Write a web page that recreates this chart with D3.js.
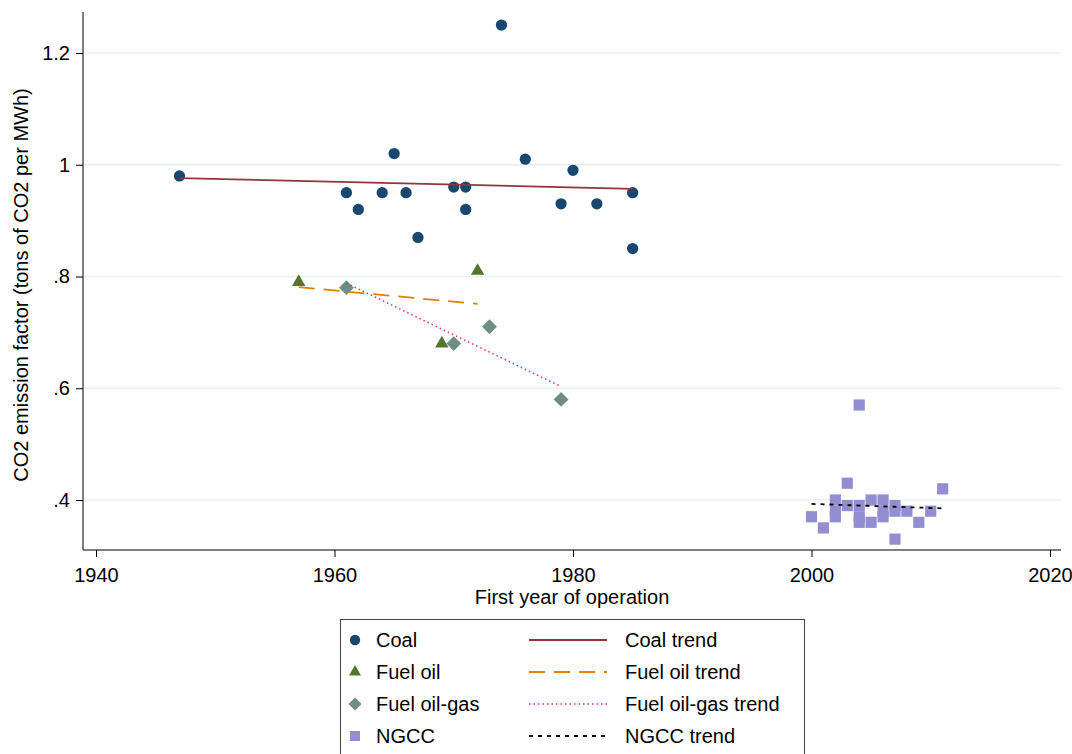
<!DOCTYPE html>
<html><head><meta charset="utf-8">
<script src="https://cdn.jsdelivr.net/npm/d3@7"></script>
<style>body{margin:0;background:#fff;} svg{display:block;font-family:"Liberation Sans",Arial,sans-serif;}</style>
</head><body>
<svg id="c" width="1072" height="754"></svg>
<script>
const coalYears = [1947,1961,1962,1964,1965,1966,1967,1970,1971,1971,1974,1976,1979,1980,1982,1985,1985];
const coalValues = [0.98,0.95,0.92,0.95,1.02,0.95,0.87,0.96,0.96,0.92,1.25,1.01,0.93,0.99,0.93,0.95,0.85];
const oilYears = [1957,1969,1972];
const oilValues = [0.79,0.68,0.81];
const oilGasYears = [1961,1970,1973,1979];
const oilGasValues = [0.78,0.68,0.71,0.58];
const ngccYears = [2000,2001,2002,2002,2002,2003,2003,2004,2004,2004,2004,2005,2005,2006,2006,2006,2007,2007,2007,2008,2009,2010,2011];
const ngccValues = [0.37,0.35,0.40,0.38,0.37,0.43,0.39,0.57,0.39,0.37,0.36,0.40,0.36,0.40,0.38,0.37,0.39,0.38,0.33,0.38,0.36,0.38,0.42];
const coalTrendYears = [1947,1985], coalTrendValues = [0.976,0.957];
const oilTrendYears = [1957,1972], oilTrendValues = [0.781,0.751];
const oilGasTrendYears = [1961,1979], oilGasTrendValues = [0.788,0.603];
const ngccTrendYears = [2000,2011], ngccTrendValues = [0.393,0.385];
const xTicks = [1940,1960,1980,2000,2020];
const yTicks = [0.4,0.6,0.8,1.0,1.2];
const yTickLabels = [".4",".6",".8","1","1.2"];

const FS = 20;
const svg = d3.select("#c");
const x = d3.scaleLinear().domain([1940,2020]).range([96,1050]);
const y = d3.scaleLinear().domain([0.4,1.2]).range([500,53]);
const L=83, R=1061, T=12, B=550;

// grid
svg.append("g").selectAll("line").data(yTicks).join("line")
  .attr("x1",L).attr("x2",R).attr("y1",d=>y(d)).attr("y2",d=>y(d))
  .attr("stroke","#eaf0f2").attr("stroke-width",1.5);

// axes
const yAxis = d3.axisLeft(y).tickValues(yTicks).tickFormat((d,i)=>yTickLabels[i]).tickSize(7).tickPadding(6);
const gy = svg.append("g").attr("transform",`translate(${L},0)`).call(yAxis);
gy.select(".domain").remove();
gy.append("line").attr("x1",0).attr("x2",0).attr("y1",T).attr("y2",B).attr("stroke","#000");
const xAxis = d3.axisBottom(x).tickValues(xTicks).tickFormat(d3.format("d")).tickSize(7).tickPadding(11);
const gx = svg.append("g").attr("transform",`translate(0,${B})`).call(xAxis);
gx.select(".domain").remove();
gx.append("line").attr("x1",L).attr("x2",R).attr("y1",0).attr("y2",0).attr("stroke","#000");
svg.selectAll(".tick text").attr("font-size",FS).attr("font-family","Liberation Sans, Arial, sans-serif").attr("fill","#000");
svg.selectAll(".tick line").attr("stroke","#000");

svg.append("text").attr("x",572).attr("y",604).attr("text-anchor","middle").attr("font-size",FS).text("First year of operation");
svg.append("text").attr("transform",`translate(28,285) rotate(-90)`).attr("text-anchor","middle").attr("font-size",FS).text("CO2 emission factor (tons of CO2 per MWh)");

const cCoal="#1a476f", cOil="#55752f", cOilGas="#6e8e84", cNgcc="#938dd2";
const sym = {
  coal: d3.symbol().type(d3.symbolCircle).size(100),
  oil: d3.symbol().type(d3.symbolTriangle).size(78),
  oilgas: d3.symbol().type(d3.symbolSquare).size(110),
  ngcc: d3.symbol().type(d3.symbolSquare).size(125)
};
function pts(xs, vs, s, col, rot){
  svg.append("g").selectAll("path").data(xs.map((d,i)=>[d,vs[i]])).join("path")
    .attr("d",s).attr("fill",col)
    .attr("transform",d=>`translate(${x(d[0])},${y(d[1])})${rot?" rotate(45)":""}`);
}
function trend(xs, vs, col, dash, w){
  svg.append("path").datum(xs.map((d,i)=>[d,vs[i]]))
    .attr("d",d3.line().x(d=>x(d[0])).y(d=>y(d[1])))
    .attr("fill","none").attr("stroke",col).attr("stroke-width",w).attr("stroke-dasharray",dash);
}
pts(ngccYears, ngccValues, sym.ngcc, cNgcc, false);
pts(oilGasYears, oilGasValues, sym.oilgas, cOilGas, true);
pts(oilYears, oilValues, sym.oil, cOil, false);
pts(coalYears, coalValues, sym.coal, cCoal, false);
trend(coalTrendYears, coalTrendValues, "#90353b", null, 1.8);
trend(oilTrendYears, oilTrendValues, "#e37e00", "16,9", 1.8);
trend(oilGasTrendYears, oilGasTrendValues, "#d6336b", "1.5,3", 1.5);
trend(ngccTrendYears, ngccTrendValues, "#000", "4,5", 1.8);

// legend
const lg = svg.append("g");
lg.append("rect").attr("x",340.5).attr("y",619.5).attr("width",464).attr("height",150).attr("fill","#fff").attr("stroke","#444").attr("stroke-width",1);
const rows = [
  {lab:"Coal", s:d3.symbol().type(d3.symbolCircle).size(85), col:cCoal, rot:false, tl:"Coal trend", tc:"#90353b", dash:null, w:1.8},
  {lab:"Fuel oil", s:d3.symbol().type(d3.symbolTriangle).size(62), col:cOil, rot:false, tl:"Fuel oil trend", tc:"#e37e00", dash:"16,9", w:1.8},
  {lab:"Fuel oil-gas", s:d3.symbol().type(d3.symbolSquare).size(85), col:cOilGas, rot:true, tl:"Fuel oil-gas trend", tc:"#d6336b", dash:"1.5,3", w:1.5},
  {lab:"NGCC", s:d3.symbol().type(d3.symbolSquare).size(100), col:cNgcc, rot:false, tl:"NGCC trend", tc:"#000", dash:"4,5", w:1.8}
];
rows.forEach((r,i)=>{
  const yy = 640 + i*32;
  lg.append("path").attr("d",r.s).attr("fill",r.col).attr("transform",`translate(355,${yy})${r.rot?" rotate(45)":""}`);
  lg.append("text").attr("x",376).attr("y",yy+7).attr("font-size",FS).text(r.lab);
  lg.append("line").attr("x1",529).attr("x2",607).attr("y1",yy).attr("y2",yy).attr("stroke",r.tc).attr("stroke-width",r.w).attr("stroke-dasharray",r.dash);
  lg.append("text").attr("x",625).attr("y",yy+7).attr("font-size",FS).text(r.tl);
});
</script>
</body></html>
